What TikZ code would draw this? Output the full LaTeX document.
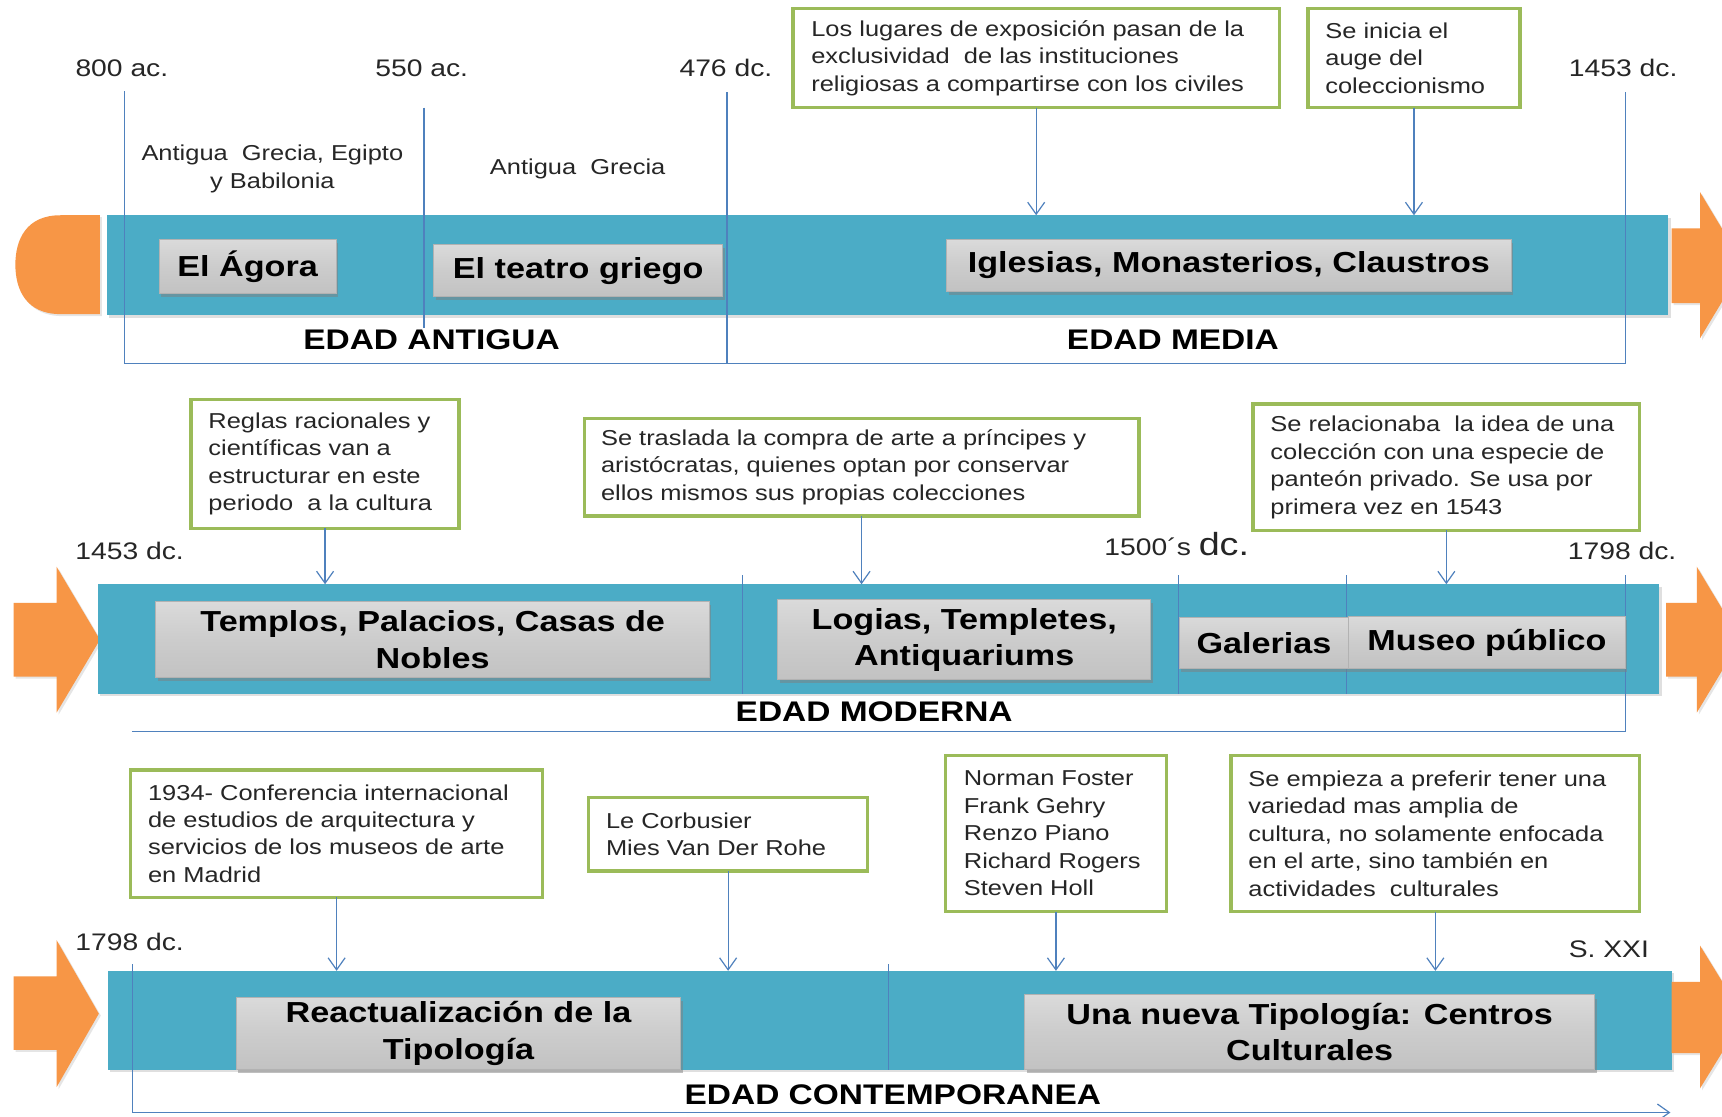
\documentclass[tikz,border=0pt]{standalone}
\usepackage{fontspec}
\setmainfont[FakeStretch=1.18]{Liberation Sans}
\usetikzlibrary{arrows.meta,shadows}
\definecolor{bandc}{HTML}{4BACC6}
\definecolor{orangec}{HTML}{F79646}
\definecolor{greenc}{HTML}{9BBB59}
\definecolor{bluec}{HTML}{4F81BD}
\definecolor{boxtop}{HTML}{DADADA}
\definecolor{boxmid}{HTML}{CCCCCC}
\definecolor{boxbot}{HTML}{C2C2C2}
\newcommand\placebox[7]{\node[#1, minimum width={(#5-(#3))*0.55pt}, minimum height={(#6-(#4))*0.55pt}] (#2) at ({(#3+#5)/2},{(#4+#6)/2}) {#7};}
\tikzset{
  band/.style={rectangle, fill=bandc, inner sep=0pt, outer sep=0pt, drop shadow={shadow xshift=1.2pt, shadow yshift=-1.2pt, opacity=0.25}},
  orangeshape/.style={fill=orangec, drop shadow={shadow xshift=1pt, shadow yshift=-1pt, opacity=0.2}},
  graybox/.style={rectangle, top color=boxtop, bottom color=boxbot, middle color=boxmid, draw=gray!60, line width=0.5pt, inner sep=2pt, outer sep=0pt, align=center, font=\bfseries\fontsize{14.5}{18.2}\selectfont, drop shadow={shadow xshift=1pt, shadow yshift=-1.8pt, opacity=0.5}},
  notebox/.style={rectangle, draw=greenc, line width=1.7pt, fill=white, inner sep=0pt, outer sep=0pt},
  notetext/.style={anchor=west, align=left, inner sep=0pt, text=black!85, font=\fontsize{10.8}{13.75}\selectfont},
  yearlabel/.style={inner sep=0pt, text=black!85, font=\fontsize{12}{14}\selectfont},
  eralabel/.style={inner sep=0pt, font=\bfseries\fontsize{14.2}{17}\selectfont},
  plainlabel/.style={inner sep=0pt, align=center, text=black!85, font=\fontsize{10.8}{13.75}\selectfont},
  conn/.style={draw=bluec, line width=0.6pt, -{Straight Barb[length=6pt, width=8.5pt]}},
  period/.style={draw=bluec, line width=0.6pt},
}
\begin{document}
\begin{tikzpicture}[x=0.55pt, y=-0.55pt]
\useasboundingbox (0,0) rectangle (1568,1017);
\fill[white] (0,0) rectangle (1568,1017);
\clip (0,0) rectangle (1568,1017);

% ===== Row 1 =====
\fill[orangeshape] (91,196) -- (55,196) .. controls (24,196) and (14,218) .. (14,241) .. controls (14,264) and (24,286) .. (55,286) -- (91,286) -- cycle;
\placebox{band}{band1}{97}{196}{1519}{287}{}
\fill[orangeshape] (1522,208) -- (1548,208) -- (1548,175) -- (1588,241.5) -- (1548,308) -- (1548,276) -- (1522,276) -- cycle;

\draw[period] (113,83) -- (113,331) -- (1480,331) -- (1480,84);
\draw[period] (386,98) -- (386,299);
\draw[period] (662,84) -- (662,331);

\placebox{graybox}{agora}{145}{218}{306}{267}{El Ágora}
\placebox{graybox}{teatro}{395}{223}{658}{270}{El teatro griego}
\placebox{graybox}{iglesias}{862}{218}{1376}{265}{Iglesias, Monasterios, Claustros}

\node[yearlabel] (y800) at (111,62) {800 ac.};
\node[yearlabel] (y550) at (384,62) {550 ac.};
\node[yearlabel] (y476) at (661,62) {476 dc.};
\node[yearlabel] (y1453a) at (1478,62) {1453 dc.};
\node[plainlabel] (lgrecia1) at (248,154) {Antigua\ \ Grecia, Egipto\\y Babilonia};
\node[plainlabel] (lgrecia2) at (526,154) {Antigua\ \ Grecia};
\node[eralabel] (eantigua) at (393,309) {EDAD ANTIGUA};
\node[eralabel] (emedia) at (1068,309) {EDAD MEDIA};

\placebox{notebox}{g1}{722}{8}{1165}{98}{}
\node[notetext] (t1) at ([xshift=9pt]g1.west) {Los lugares de exposición pasan de la\\exclusividad\ \ de las instituciones\\religiosas a compartirse con los civiles};
\placebox{notebox}{g2}{1191}{8}{1384}{98}{}
\node[notetext] (t2) at ([xshift=8.5pt]g2.west) {Se inicia el\\auge del\\coleccionismo};
\draw[conn] (g1.south) -- (g1.south |- band1.north);
\draw[conn] (g2.south) -- (g2.south |- band1.north);

% ===== Row 2 =====
\fill[orangeshape] (12.5,549) -- (51.5,549) -- (51.5,516) -- (91,582.5) -- (51.5,649) -- (51.5,616) -- (12.5,616) -- cycle;
\placebox{band}{band2}{89}{532}{1511}{632}{}
\fill[orangeshape] (1517,549) -- (1545,549) -- (1545,516) -- (1585,582.5) -- (1545,649) -- (1545,616) -- (1517,616) -- cycle;

\draw[period] (120,666) -- (1480,666) -- (1480,524);
\draw[period] (676,524) -- (676,632);
\draw[period] (1073,524) -- (1073,632);
\draw[period] (1226,524) -- (1226,632);

\placebox{graybox}{templos}{142}{548}{646}{617}{Templos, Palacios, Casas de\\Nobles}
\placebox{graybox}{logias}{708}{546}{1048}{619}{Logias, Templetes,\\Antiquariums}
\placebox{graybox}{galerias}{1074}{562}{1228}{609}{Galerias}
\placebox{graybox}{museo}{1228}{561}{1480}{609}{Museo público}

\node[yearlabel] (y1453b) at (118,502) {1453 dc.};
\node[yearlabel, anchor=base] (y1500) at (1071.5,506) {1500´s {\fontsize{16}{18}\selectfont dc.}};
\node[yearlabel] (y1798a) at (1477,502) {1798 dc.};
\node[eralabel] (emoderna) at (796,648) {EDAD MODERNA};

\placebox{notebox}{g3}{174}{364}{418}{481}{}
\node[notetext] (t3) at ([xshift=8.5pt]g3.west) {Reglas racionales y\\científicas van a\\estructurar en este\\periodo\ \ a la cultura};
\placebox{notebox}{g4}{532}{381}{1037}{470}{}
\node[notetext] (t4) at ([xshift=8.2pt]g4.west) {Se traslada la compra de arte a príncipes y\\aristócratas, quienes optan por conservar\\ellos mismos sus propias colecciones};
\placebox{notebox}{g5}{1141}{368}{1493}{483}{}
\node[notetext] (t5) at ([xshift=8.5pt]g5.west) {Se relacionaba\ \ la idea de una\\colección con una especie de\\panteón privado. Se usa por\\primera vez en 1543};
\draw[conn] (g3.south) -- (g3.south |- band2.north);
\draw[conn] (g4.south) -- (g4.south |- band2.north);
\draw[conn] (g5.south) -- (g5.south |- band2.north);

% ===== Row 3 =====
\fill[orangeshape] (12.5,889) -- (51.5,889) -- (51.5,856) -- (90,923) -- (51.5,990) -- (51.5,956) -- (12.5,956) -- cycle;
\placebox{band}{band3}{98}{884}{1522}{974}{}
\fill[orangeshape] (1522,894) -- (1548,894) -- (1548,861) -- (1588,926) -- (1548,991) -- (1548,959) -- (1522,959) -- cycle;

\coordinate (axisend) at (1521,1013);
\draw[conn] (121,878) -- (121,1013) -- (axisend);
\draw[period] (809,878) -- (809,974);

\placebox{graybox}{react}{215}{908}{620}{974}{Reactualización de la\\Tipología}
\placebox{graybox}{nueva}{933}{906}{1452}{974}{Una nueva Tipología: Centros\\Culturales}

\node[yearlabel] (y1798b) at (118,858) {1798 dc.};
\node[yearlabel] (ysxxi) at (1465,864) {S. XXI};
\node[eralabel] (econt) at (813,997) {EDAD CONTEMPORANEA};

\placebox{notebox}{g6}{119}{701}{494}{817}{}
\node[notetext] (t6) at ([xshift=8.5pt]g6.west) {1934- Conferencia internacional\\de estudios de arquitectura y\\servicios de los museos de arte\\en Madrid};
\placebox{notebox}{g7}{536}{726}{790}{793}{}
\node[notetext] (t7) at ([xshift=8.5pt]g7.west) {Le Corbusier\\Mies Van Der Rohe};
\placebox{notebox}{g8}{861}{688}{1062}{830}{}
\node[notetext] (t8) at ([xshift=9pt]g8.west) {Norman Foster\\Frank Gehry\\Renzo Piano\\Richard Rogers\\Steven Holl};
\placebox{notebox}{g9}{1121}{688}{1493}{830}{}
\node[notetext] (t9) at ([xshift=8.5pt]g9.west) {Se empieza a preferir tener una\\variedad mas amplia de\\cultura, no solamente enfocada\\en el arte, sino también en\\actividades\ \ culturales};
\draw[conn] (g6.south) -- (g6.south |- band3.north);
\draw[conn] (g7.south) -- (g7.south |- band3.north);
\draw[conn] (g8.south) -- (g8.south |- band3.north);
\draw[conn] (g9.south) -- (g9.south |- band3.north);
\end{tikzpicture}
\end{document}
